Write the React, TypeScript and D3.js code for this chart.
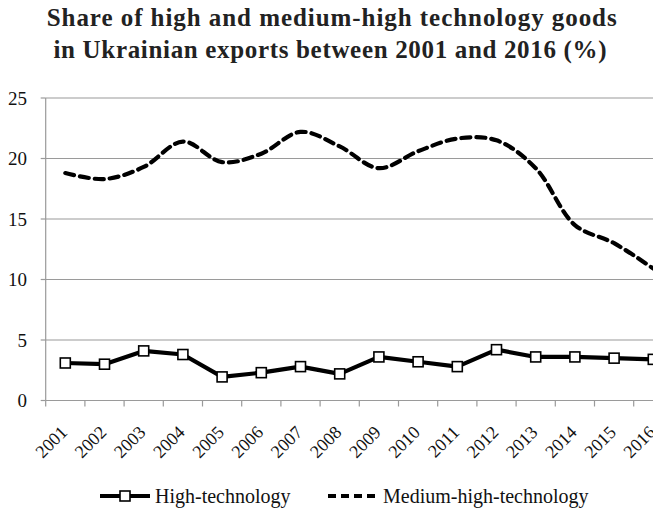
import React from "react";
import * as d3 from "d3";

const years = ["2001","2002","2003","2004","2005","2006","2007","2008","2009","2010","2011","2012","2013","2014","2015","2016"];
const highTech = [3.1, 3.0, 4.1, 3.8, 1.95, 2.3, 2.8, 2.2, 3.6, 3.2, 2.8, 4.2, 3.6, 3.6, 3.5, 3.4];
const mediumHighTech = [18.8, 18.3, 19.3, 21.4, 19.7, 20.4, 22.2, 21.0, 19.2, 20.6, 21.65, 21.5, 19.2, 14.5, 13.0, 10.9];
const yTicks = [0, 5, 10, 15, 20, 25];
const titleLines = ["Share of high and medium-high technology goods", "in Ukrainian exports between 2001 and 2016 (%)"];
const legendLabels = ["High-technology", "Medium-high-technology"];

const W = 653, H = 514;
const left = 45.7, bandW = 39.2;
const top = 98, bottom = 400.5;

export default function App() {
  const x = d3.scaleBand<string>().domain(years).range([left, left + bandW * years.length]).padding(0);
  const y = d3.scaleLinear().domain([0, 25]).range([bottom, top]);
  const cx = (yr: string) => (x(yr) as number) + x.bandwidth() / 2;
  const font = "'Liberation Serif', 'Times New Roman', serif";

  const hiLine = d3.line<number>().x((_, i) => cx(years[i])).y((v) => y(v))(highTech) as string;
  const medLine = d3
    .line<number>()
    .x((_, i) => cx(years[i]))
    .y((v) => y(v))
    .curve(d3.curveCatmullRom.alpha(0.5))(mediumHighTech) as string;

  const xEnd = left + bandW * years.length;
  const titleLayout = [
    { cx: 331.7, y: 26, w: 570 },
    { cx: 330, y: 58, w: 553 },
  ];

  return (
    <svg width={W} height={H} style={{ position: "absolute", left: 0, top: 0 }} fontFamily={font}>
      <rect width={W} height={H} fill="#fff" />
      {titleLines.map((t, i) => (
        <text
          key={i}
          x={titleLayout[i].cx - titleLayout[i].w / 2}
          y={titleLayout[i].y}
          textLength={titleLayout[i].w}
          lengthAdjust="spacing"
          fontWeight="bold"
          fontSize={25}
          fill="#222"
        >
          {t}
        </text>
      ))}
      {yTicks.map((t) => (
        <g key={t}>
          <line x1={left} x2={xEnd} y1={y(t)} y2={y(t)} stroke="#9a9a9a" strokeWidth={1.2} />
          <line x1={left - 5} x2={left} y1={y(t)} y2={y(t)} stroke="#9a9a9a" strokeWidth={1.2} />
          <text x={27} y={y(t)} dy="0.35em" textAnchor="end" fontSize={19} fill="#111">
            {t}
          </text>
        </g>
      ))}
      <line x1={left} x2={left} y1={top} y2={bottom} stroke="#9a9a9a" strokeWidth={1.2} />
      {years.map((yr, i) => (
        <line key={yr} x1={left + i * bandW} x2={left + i * bandW} y1={bottom} y2={bottom + 6} stroke="#9a9a9a" strokeWidth={1.2} />
      ))}
      {years.map((yr) => (
        <text
          key={yr}
          transform={`translate(${cx(yr) + 3},${bottom + 33}) rotate(-45)`}
          textAnchor="end"
          fontSize={18}
          fill="#111"
        >
          {yr}
        </text>
      ))}
      <path d={medLine} fill="none" stroke="#000" strokeWidth={4.2} strokeDasharray="9 6" strokeLinecap="round" />
      <path d={hiLine} fill="none" stroke="#000" strokeWidth={4.2} strokeLinejoin="round" />
      {highTech.map((v, i) => (
        <rect key={i} x={cx(years[i]) - 5} y={y(v) - 5} width={10} height={10} fill="#fff" stroke="#000" strokeWidth={1.6} />
      ))}
      {/* legend */}
      <g>
        <line x1={100} x2={150} y1={496} y2={496} stroke="#000" strokeWidth={4} />
        <rect x={120} y={491} width={10} height={10} fill="#fff" stroke="#000" strokeWidth={1.6} />
        <text x={155} y={496} dy="0.35em" fontSize={20} fill="#111">{legendLabels[0]}</text>
        <line x1={328} x2={380} y1={496} y2={496} stroke="#000" strokeWidth={4} strokeDasharray="8 5" />
        <text x={383} y={496} dy="0.35em" fontSize={20} fill="#111">{legendLabels[1]}</text>
      </g>
    </svg>
  );
}
